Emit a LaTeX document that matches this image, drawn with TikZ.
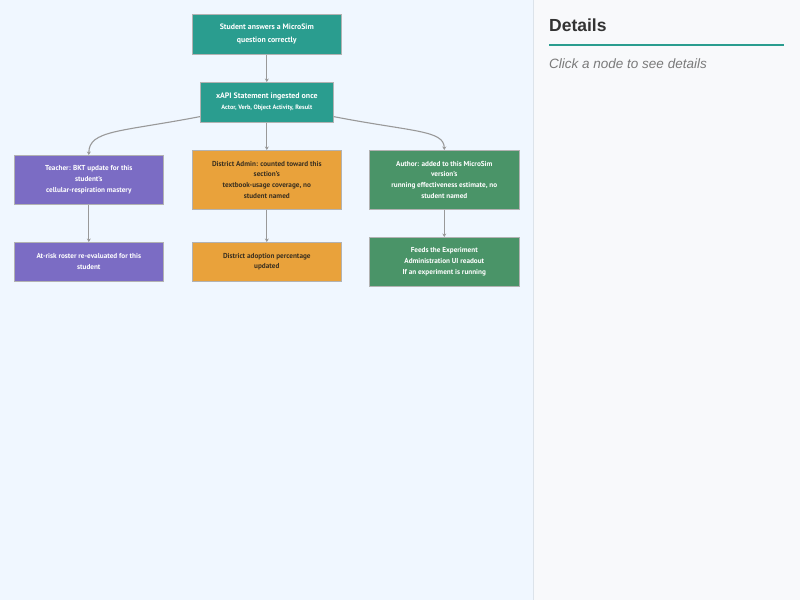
\documentclass[tikz,border=0pt]{standalone}
\usepackage{fontspec}
\setmainfont{PT Sans}
\newfontfamily\panelfont{Liberation Sans}
\usetikzlibrary{arrows.meta,calc}
\definecolor{leftbg}{HTML}{F0F7FF}
\definecolor{rightbg}{HTML}{F8F9FB}
\definecolor{sepline}{HTML}{DCE3EA}
\definecolor{tealc}{HTML}{2A9D8F}
\definecolor{purplec}{HTML}{7B6CC4}
\definecolor{orangec}{HTML}{E9A23B}
\definecolor{greenc}{HTML}{4A9468}
\definecolor{arrc}{HTML}{999999}
\definecolor{headc}{HTML}{333333}
\definecolor{hintc}{HTML}{7A7A7A}
\definecolor{darktext}{HTML}{3A3020}
\tikzset{
  box/.style={draw=white!70!black, line width=0.6pt, anchor=north west, inner sep=0pt, align=center, font=\bfseries\fontsize{7.2}{10.7}\selectfont},
  tealbox/.style={box, fill=tealc, text=white},
  purplebox/.style={box, fill=purplec, text=white},
  orangebox/.style={box, fill=orangec, text=darktext},
  greenbox/.style={box, fill=greenc, text=white},
  arr/.style={draw=arrc, line width=1.1pt, -{Stealth[length=3.5pt,width=4pt]}},
}
\begin{document}
\begin{tikzpicture}[x=1pt,y=-1pt]
\useasboundingbox (0,0) rectangle (800,600);
\fill[leftbg] (0,0) rectangle (533.5,600);
\fill[rightbg] (533.5,0) rectangle (800,600);
\draw[sepline, line width=0.8pt] (533.5,0) -- (533.5,600);

% nodes
\node[tealbox, minimum width=149pt, minimum height=40pt, font=\bfseries\fontsize{7.8}{12.7}\selectfont] (n1) at (192,14) {Student answers a MicroSim\\question correctly};
\node[tealbox, minimum width=133pt, minimum height=40pt, font=\bfseries\fontsize{7.9}{12}\selectfont] (n2) at (200,82) {xAPI Statement ingested once\\[-1pt]{\fontsize{6.3}{8}\selectfont Actor, Verb, Object Activity, Result}};
\node[purplebox, minimum width=149pt, minimum height=49pt] (t1) at (14,155) {Teacher: BKT update for this\\student's\\cellular-respiration mastery};
\node[orangebox, minimum width=149pt, minimum height=59pt] (d1) at (192,150) {District Admin: counted toward this\\section's\\textbook-usage coverage, no\\student named};
\node[greenbox, minimum width=150pt, minimum height=59pt] (a1) at (369,150) {Author: added to this MicroSim\\version's\\running effectiveness estimate, no\\student named};
\node[purplebox, minimum width=149pt, minimum height=39pt] (t2) at (14,242) {At-risk roster re-evaluated for this\\student};
\node[orangebox, minimum width=149pt, minimum height=39pt] (d2) at (192,242) {District adoption percentage\\updated};
\node[greenbox, minimum width=150pt, minimum height=49pt] (a2) at (369,237) {Feeds the Experiment\\Administration UI readout\\If an experiment is running};

% connectors
\draw[arr] (n1.south) -- (n2.north);
\draw[arr] ($(n2.south west)+(0,-6)$) .. controls (120,132) and (89,130) .. (t1.north);
\draw[arr] (n2.south) -- (d1.north);
\draw[arr] ($(n2.south east)+(0,-6)$) .. controls (413,132) and (444,130) .. (a1.north);
\draw[arr] (t1.south) -- (t2.north);
\draw[arr] (d1.south) -- (d2.north);
\draw[arr] (a1.south) -- (a2.north);

% details panel
\node[anchor=west, font=\panelfont\bfseries\fontsize{17.5}{20}\selectfont, text=headc, inner sep=0pt] (dh) at (549,25) {Details};
\draw[tealc, line width=2pt] (549,44.5) -- (784,44.5);
\node[anchor=west, font=\panelfont\itshape\fontsize{13.5}{16}\selectfont, text=hintc, inner sep=0pt] (hint) at (549,64) {Click a node to see details};
\end{tikzpicture}
\end{document}
